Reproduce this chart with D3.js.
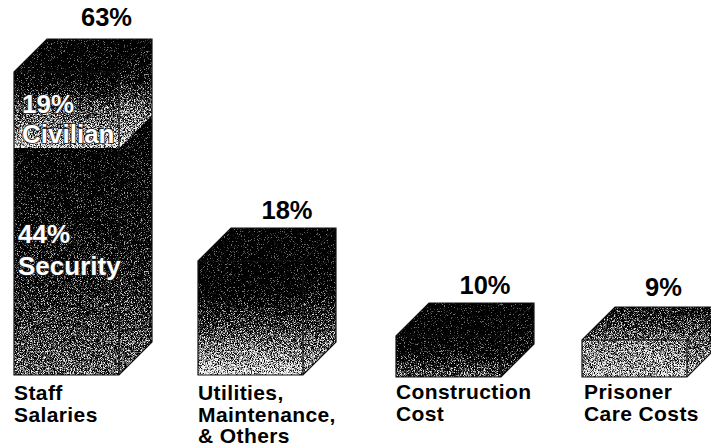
<!DOCTYPE html>
<html>
<head>
<meta charset="utf-8">
<script src="https://d3js.org/d3.v7.min.js"></script>
<style>
	html, body { margin: 0; padding: 0; background: #fff; overflow: hidden; }
	text { font-family: "Liberation Sans", Arial, sans-serif; font-weight: bold; }
</style>
</head>
<body>
<div id="viz"></div>
<script>
// values
var categories = ["Staff Salaries", "Utilities", "Construction", "Prisoner Care"];
var shares = [63, 18, 10, 9];
var categoryLines = [
	["Staff", "Salaries"],
	["Utilities,", "Maintenance,", "& Others"],
	["Construction", "Cost"],
	["Prisoner", "Care Costs"]
];
var staffParts = [44, 19];
var staffPartNames = ["Security", "Civilian"];

var width = 711, height = 448;
var barWidth = 105, depth = 33;

// the original chart is not drawn to a single linear scale, so this one goes
// through the heights it really uses
var y = d3.scaleLinear()
	.domain([0, 9, 10, 18, 44, 63])
	.range([375, 338, 334, 261, 148, 72]);

var x = d3.scaleOrdinal()
	.domain(categories)
	.range([14, 198, 396, 582]);

// moves the two short boxes a bit lower, as in the picture
var baselineDrop = d3.scaleOrdinal().domain(categories).range([0, 0, 2, 2]);

// label placement for each box
var valueLabelShift = d3.scaleOrdinal().domain(categories).range([40, 36.5, 36.5, 29]);
var valueLabelGap = d3.scaleOrdinal().domain(categories).range([13, 9, 9, 11]);

var svg = d3.select("#viz")
	.append("svg")
	.attr("width", width)
	.attr("height", height)
	.style("display", "block");

var defs = svg.append("defs");

// gray levels top to bottom for each face
var gradients = {
	black: [[0, 0], [1, 0]],
	staffFront: [[0, 0.03], [0.3, 0.1], [0.6, 0.2], [1, 0.45]],
	staffSide: [[0, 0.03], [0.3, 0.1], [0.6, 0.2], [1, 0.45]],
	civilianFront: [[0, 0.02], [0.2, 0.12], [0.5, 0.38], [1, 0.66]],
	civilianSide: [[0, 0.02], [0.35, 0.12], [0.6, 0.42], [1, 0.68]],
	utilitiesFront: [[0, 0], [0.28, 0.03], [0.5, 0.25], [1, 0.72]],
	utilitiesSide: [[0, 0], [0.35, 0.03], [0.6, 0.25], [1, 0.64]],
	constructionFront: [[0, 0.02], [0.35, 0.08], [1, 0.4]],
	constructionSide: [[0, 0], [0.5, 0.06], [1, 0.32]],
	prisonerFront: [[0, 0.5], [1, 0.64]],
	prisonerSide: [[0, 0.2], [1, 0.66]],
	prisonerTop: [[0, 0.16], [1, 0.45]]
};

function addGradient(name){

	var gradient = defs.append("linearGradient")
		.attr("id", name)
		.attr("x1", 0).attr("y1", 0)
		.attr("x2", 0).attr("y2", 1);

	gradients[name].forEach(function(stop){
		var level = Math.round(stop[1] * 255);
		gradient.append("stop")
			.attr("offset", stop[0])
			.attr("stop-color", d3.rgb(level, level, level));
	});
}

Object.keys(gradients).forEach(addGradient);

// turns the gray gradients into the speckled look of the scan
function setUpSpeckleFilter(){

	var filter = defs.append("filter")
		.attr("id", "speckle")
		.attr("filterUnits", "userSpaceOnUse")
		.attr("x", 0).attr("y", 0)
		.attr("width", width).attr("height", height)
		.attr("color-interpolation-filters", "sRGB");

	filter.append("feTurbulence")
		.attr("type", "fractalNoise")
		.attr("baseFrequency", 1.3)
		.attr("numOctaves", 1)
		.attr("seed", 4)
		.attr("result", "raw");

	filter.append("feColorMatrix")
		.attr("in", "raw")
		.attr("type", "matrix")
		.attr("values", "2.4 0 0 0 -0.7  2.4 0 0 0 -0.7  2.4 0 0 0 -0.7  0 0 0 0 1")
		.attr("result", "noise");

	filter.append("feComposite")
		.attr("in", "SourceGraphic")
		.attr("in2", "noise")
		.attr("operator", "arithmetic")
		.attr("k1", 0).attr("k2", 1).attr("k3", 1).attr("k4", -0.5)
		.attr("result", "mixed");

	var threshold = filter.append("feComponentTransfer")
		.attr("in", "mixed")
		.attr("result", "dots");
	["feFuncR", "feFuncG", "feFuncB"].forEach(function(channel){
		threshold.append(channel).attr("type", "table").attr("tableValues", "0 0.02 0.45 0.9 1");
	});

	filter.append("feGaussianBlur")
		.attr("in", "dots")
		.attr("stdDeviation", 0.25)
		.attr("result", "soft");

	filter.append("feComposite")
		.attr("in", "soft")
		.attr("in2", "SourceAlpha")
		.attr("operator", "in");
}

setUpSpeckleFilter();

function polygonPoints(points){

	return points.map(function(p){ return p[0] + "," + p[1]; }).join(" ");
}

// draws front and side of one box section, from value "low" up to value "high"
function drawSection(layer, category, low, high, frontFill, sideFill){

	var left = x(category);
	var right = left + barWidth;
	var drop = baselineDrop(category);
	var bottom = y(low) + drop;
	var top = y(high) + drop;

	layer.append("polygon")
		.attr("points", polygonPoints([[left, top], [right, top], [right, bottom], [left, bottom]]))
		.attr("fill", "url(#" + frontFill + ")");

	layer.append("polygon")
		.attr("points", polygonPoints([[right, top], [right + depth, top - depth], [right + depth, bottom - depth], [right, bottom]]))
		.attr("fill", "url(#" + sideFill + ")");
}

function drawTop(layer, category, value, fill){

	var left = x(category);
	var right = left + barWidth;
	var top = y(value) + baselineDrop(category);

	layer.append("polygon")
		.attr("points", polygonPoints([[left, top], [right, top], [right + depth, top - depth], [left + depth, top - depth]]))
		.attr("fill", "url(#" + fill + ")");
}

function drawOutline(layer, category, value){

	var left = x(category);
	var right = left + barWidth;
	var drop = baselineDrop(category);
	var bottom = y(0) + drop;
	var top = y(value) + drop;

	layer.append("polygon")
		.attr("points", polygonPoints([
			[left, top], [left + depth, top - depth], [right + depth, top - depth],
			[right + depth, bottom - depth], [right, bottom], [left, bottom]
		]))
		.attr("fill", "none")
		.attr("stroke", "#111")
		.attr("stroke-width", 1.2);

	layer.append("polyline")
		.attr("points", polygonPoints([[left, top], [right, top], [right, bottom]]))
		.attr("fill", "none")
		.attr("stroke", "#111")
		.attr("stroke-width", 1.2);

	layer.append("line")
		.attr("x1", right).attr("y1", top)
		.attr("x2", right + depth).attr("y2", top - depth)
		.attr("stroke", "#222")
		.attr("stroke-width", 1);
}

var faces = svg.append("g").attr("filter", "url(#speckle)");
var outlines = svg.append("g");
var labels = svg.append("g");

// staff salaries is two stacked sections
drawSection(faces, categories[0], 0, staffParts[0], "staffFront", "staffSide");
drawSection(faces, categories[0], staffParts[0], shares[0], "civilianFront", "civilianSide");
drawTop(faces, categories[0], shares[0], "black");
drawSection(faces, categories[1], 0, shares[1], "utilitiesFront", "utilitiesSide");
drawTop(faces, categories[1], shares[1], "black");
drawSection(faces, categories[2], 0, shares[2], "constructionFront", "constructionSide");
drawTop(faces, categories[2], shares[2], "black");
drawSection(faces, categories[3], 0, shares[3], "prisonerFront", "prisonerSide");
drawTop(faces, categories[3], shares[3], "prisonerTop");

categories.forEach(function(category, i){

	drawOutline(outlines, category, shares[i]);

	// percentage above the box
	labels.append("text")
		.attr("x", x(category) + barWidth / 2 + valueLabelShift(category))
		.attr("y", y(shares[i]) + baselineDrop(category) - depth - valueLabelGap(category))
		.attr("text-anchor", "middle")
		.attr("font-size", 25.5)
		.attr("fill", "#000")
		.text(shares[i] + "%");

	// category name under the box, one text with a tspan per line
	var nameX = x(category) + (i == 3 ? 2 : 0);
	labels.append("text")
		.attr("y", i >= 2 ? 399 : 400)
		.attr("font-size", 21)
		.attr("letter-spacing", 0.4)
		.attr("fill", "#000")
		.selectAll("tspan")
		.data(categoryLines[i])
		.enter()
		.append("tspan")
		.attr("x", nameX)
		.attr("dy", function(d, n){ return n == 0 ? 0 : 21.5; })
		.text(function(d){ return d; });
});

// white labels sitting on the staff box
function drawInnerLabel(text, px, py){

	labels.append("text")
		.attr("x", px)
		.attr("y", py)
		.attr("font-size", 26)
		.attr("fill", "#fff")
		.attr("stroke", "#222")
		.attr("stroke-width", 1.6)
		.attr("paint-order", "stroke")
		.text(text);
}

drawInnerLabel(staffParts[1] + "%", 22, 113);
drawInnerLabel(staffPartNames[1], 22, 143);
drawInnerLabel(staffParts[0] + "%", 18, 243);
drawInnerLabel(staffPartNames[0], 18, 275);
</script>
</body>
</html>
